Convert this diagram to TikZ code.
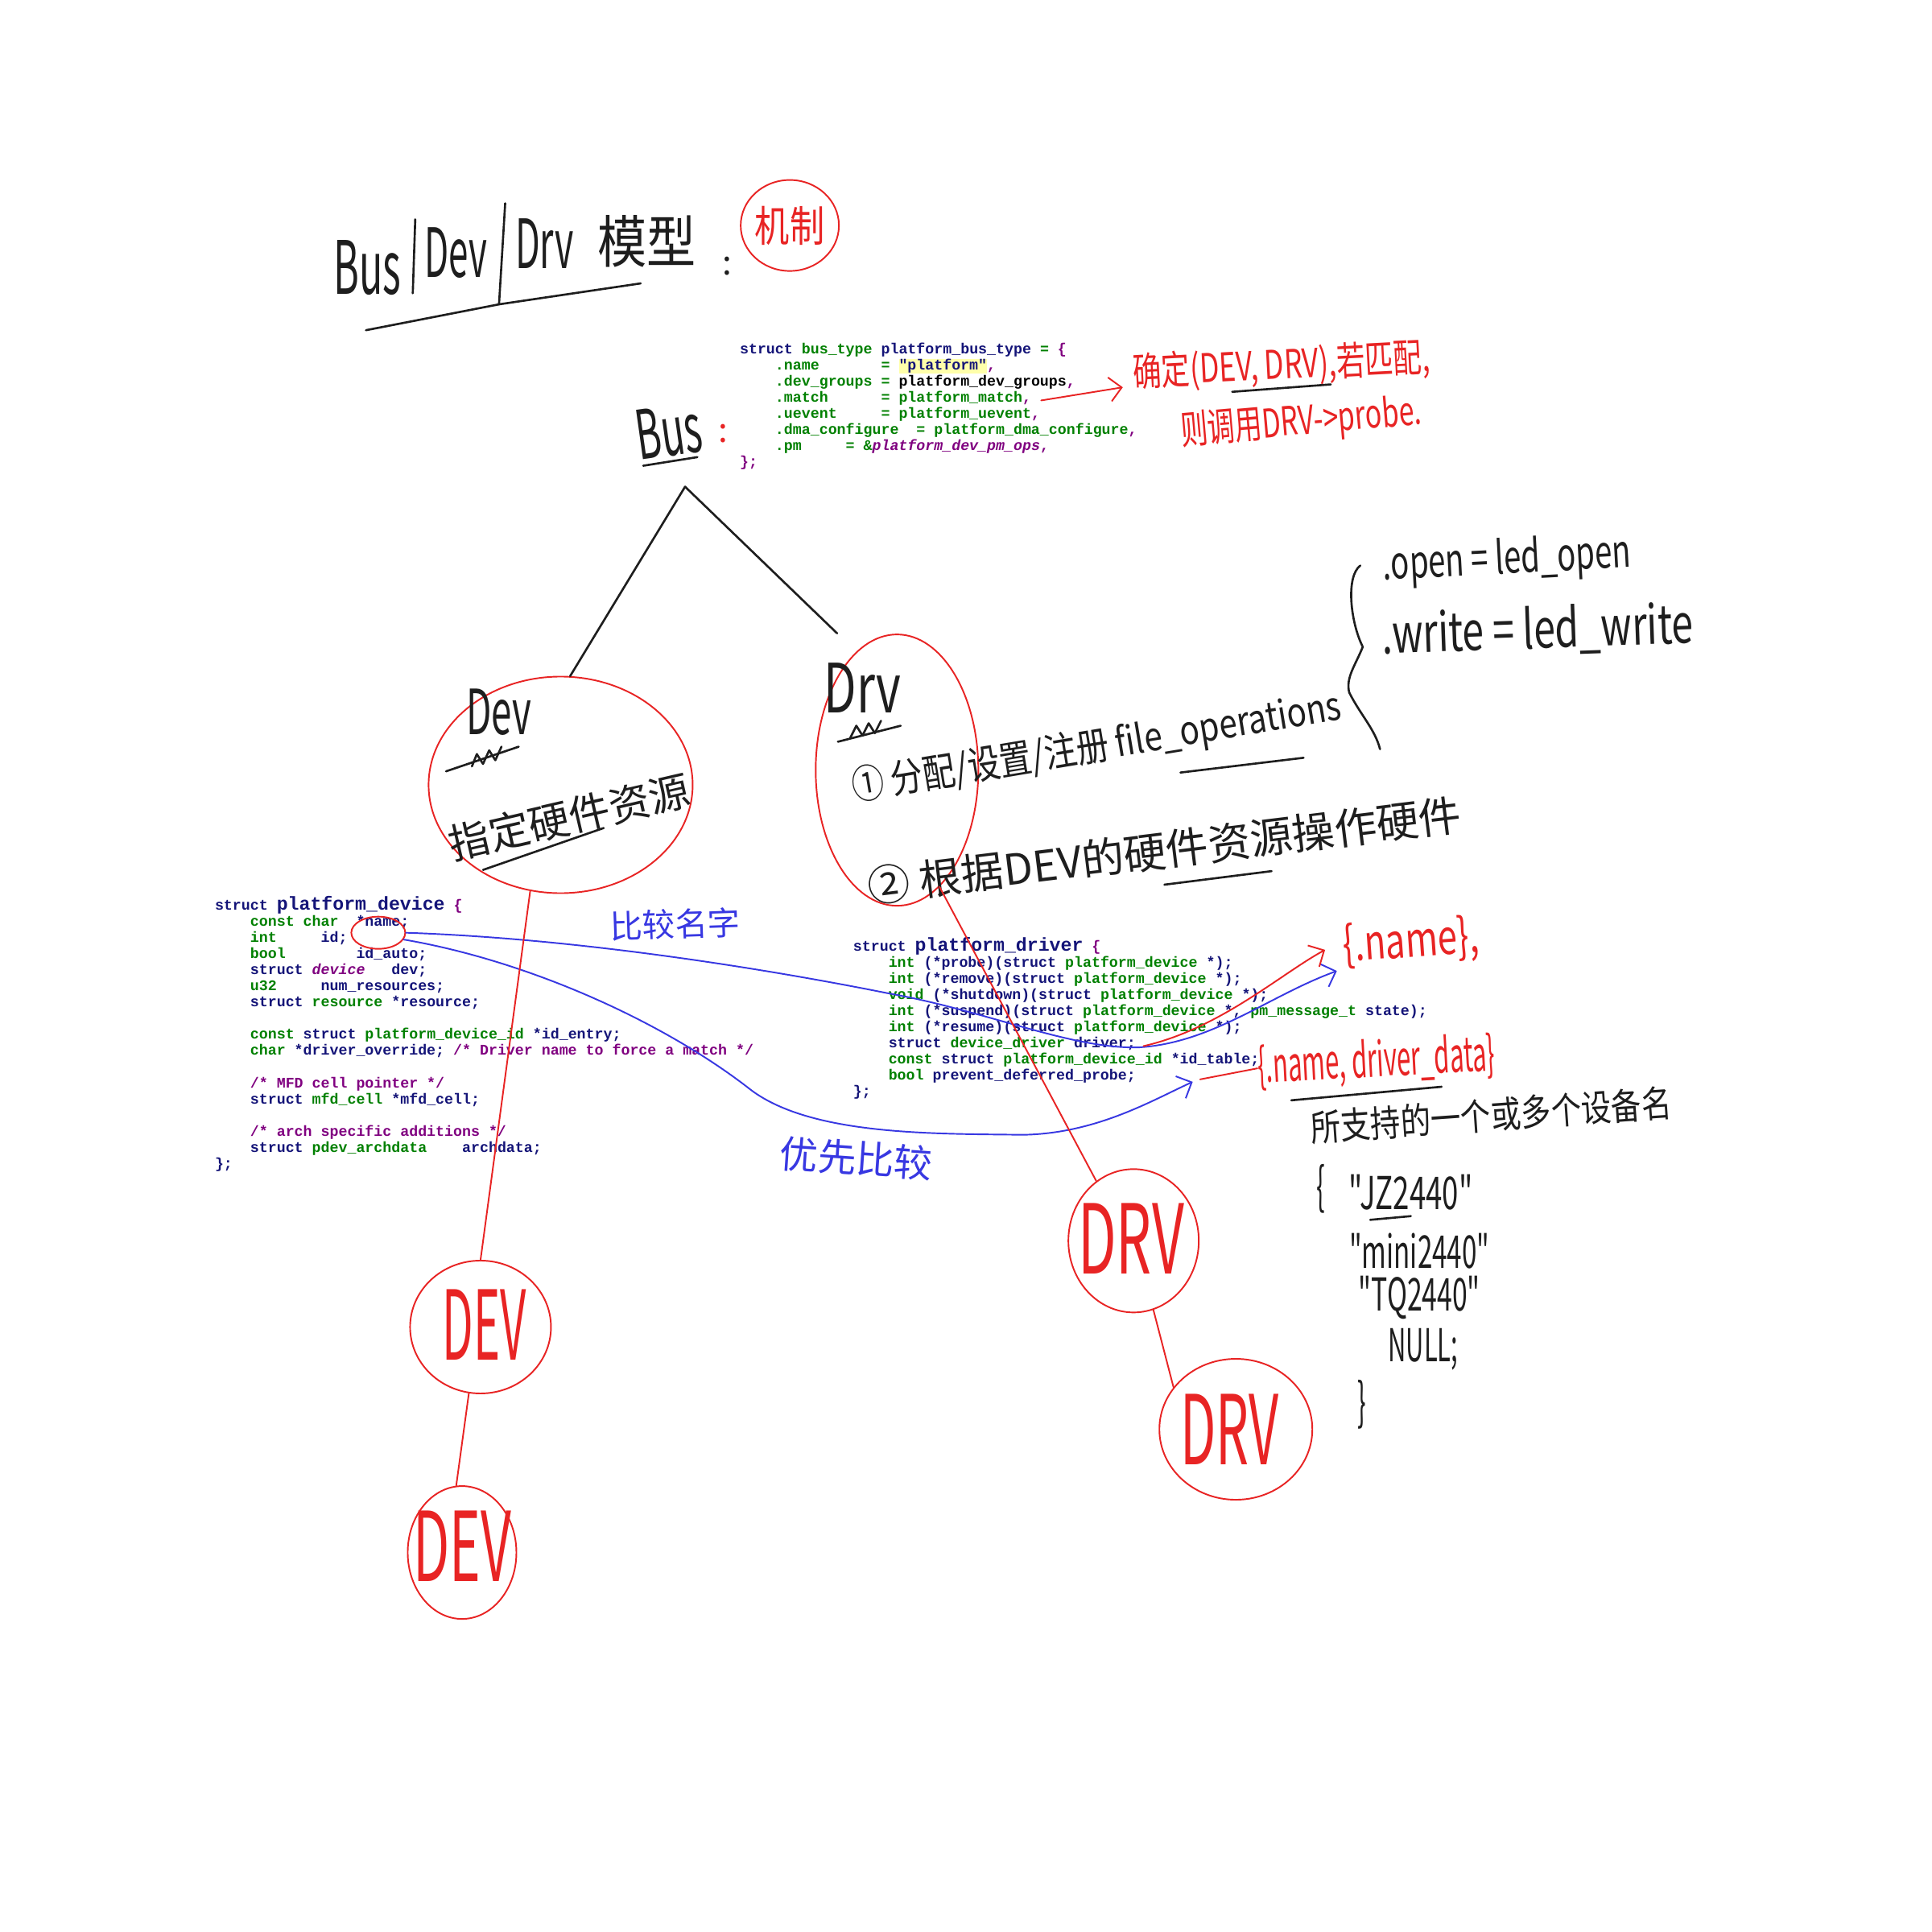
\documentclass[tikz,border=0pt]{standalone}
\usepackage{fontspec}
\usetikzlibrary{shapes.geometric,arrows.meta,positioning,calc}
\setmainfont{Liberation Sans}
\newfontfamily\hw{Noto Sans CJK SC}
\newfontfamily\codefont{Liberation Mono}

\definecolor{kwnavy}{RGB}{20,20,120}
\definecolor{tygreen}{RGB}{0,128,0}
\definecolor{cmpurple}{RGB}{128,0,128}
\definecolor{penred}{RGB}{232,36,36}
\definecolor{penblue}{RGB}{56,56,226}
\definecolor{penblack}{RGB}{30,30,30}
\definecolor{hlyellow}{RGB}{255,255,170}

\newcommand\nv[1]{\textcolor{kwnavy}{#1}}
\newcommand\gr[1]{\textcolor{tygreen}{#1}}
\newcommand\pu[1]{\textcolor{cmpurple}{#1}}
\newcommand\sk[1]{\hspace*{#1\dimexpr0.6em\relax}}
\newcommand\hsz[1]{\fontsize{#1}{#1}\selectfont}
\newcommand\codesize{\fontsize{5.2}{5.7}\selectfont}
\newcommand\bigname[1]{{\fontsize{6.6}{5.7}\selectfont\nv{#1}}}
\newcommand\hl[1]{{\setlength{\fboxsep}{0pt}\colorbox{hlyellow}{#1}}}
\lineskiplimit=-5pt

\begin{document}
\begin{tikzpicture}[
    x=0.015306cm, y=-0.015306cm,
    hand/.style={font=\hw, inner sep=0pt, text=penblack},
    code/.style={anchor=north west, inner sep=0pt, align=left,
                 font=\codefont\bfseries\codesize},
    ring/.style={draw=penred, ellipse, inner sep=0pt, line width=0.55pt},
    stroke/.style={draw=penblack, line width=0.75pt, line cap=round, line join=round},
    link/.style={draw=penred, line width=0.55pt, line cap=round},
    cmp/.style={draw=penblue, line width=0.55pt, line cap=round},
    barb/.style={-{Straight Barb[length=1.5mm,width=3mm]}}
]
\fill[white] (0,0) rectangle (1568,1568);
\useasboundingbox (0,0) rectangle (1568,1568);

% Title
\node[hand, font=\hw\hsz{26}, xscale=.53] (tbus)   at (298,217) {Bus};
\node[hand, font=\hw\hsz{24}, xscale=.52] (tdev)   at (370,205) {Dev};
\node[hand, font=\hw\hsz{24}, xscale=.53] (tdrv)   at (442,198) {Drv};
\node[hand, font=\hw\hsz{20}, xscale=.87] (tmodel) at (525,196) {模型};
\node[hand, font=\hw\hsz{12}]             (tcolon) at (590,216) {:};
\draw[stroke] (337,178) -- (335,238);
\draw[stroke] (410,165) -- (405,247);
\draw[stroke] (297,268) -- (405,247) -- (520,230);

\node[ring, minimum width=1.22cm, minimum height=1.13cm] (jizhi) at (641,183) {};
\node[hand, font=\hw\hsz{15}, xscale=.82, text=penred] (jizhitext) at (jizhi) {机制};

% Bus
\node[code] (buscode) at (600,278) {%
\nv{struct} \gr{bus\_type} \nv{platform\_bus\_type} \gr{=} \pu{\{}\\
\sk{4}\gr{.name\sk{7}=} \hl{\nv{"platform"}}\pu{,}\\
\sk{4}\gr{.dev\_groups =} platform\_dev\_groups\pu{,}\\
\sk{4}\gr{.match\sk{6}= platform\_match}\pu{,}\\
\sk{4}\gr{.uevent\sk{5}= platform\_uevent}\pu{,}\\
\sk{4}\gr{.dma\_configure\sk{2}= platform\_dma\_configure}\pu{,}\\
\sk{4}\gr{.pm\sk{5}= \&}\pu{\textit{platform\_dev\_pm\_ops}}\pu{,}\\
\pu{\};}};

\node[hand, font=\hw\hsz{14}, text=penred, rotate=3, xscale=.72] (matchnote) at (1040,297) {确定(DEV, DRV),若匹配,};
\node[hand, font=\hw\hsz{14}, text=penred, rotate=5, xscale=.69] (probenote) at (1056,343) {则调用DRV->probe.};
\coordinate (matchend) at (845,325);
\draw[link, barb] (matchend) -- ([shift={(-8,11)}]matchnote.west);
\draw[stroke] (1000,318) -- (1080,312);

\node[hand, font=\hw\hsz{24}, rotate=8, xscale=.56] (busname) at (543,350) {Bus};
\node[hand, font=\hw\hsz{12}, text=penred] (buscolon) at (587,352) {:};
\draw[stroke] (522,378) -- (566,371);
\coordinate (apex) at (556,395);

% Dev
\node[ring, minimum width=3.28cm, minimum height=2.69cm] (devring) at (455,637) {};
\node[hand, font=\hw\hsz{22}, xscale=.59] (devtext) at (405,578) {Dev};
\draw[stroke] (362,626) -- (421,606);
\draw[stroke] (383,622) -- (387,612) -- (392,620) -- (397,609) -- (402,617) -- (407,606);
\node[hand, font=\hw\hsz{14.5}, rotate=13] (devres) at (462,663) {指定硬件资源};
\draw[stroke] (392,706) -- (490,672);

% Drv
\node[ring, minimum width=2.02cm, minimum height=3.37cm] (drvring) at (728,625) {};
\node[hand, font=\hw\hsz{24}, xscale=.7] (drvtext) at (700,558) {Drv};
\draw[stroke] (680,602) -- (731,589);
\draw[stroke] (690,599) -- (695,589) -- (700,597) -- (705,587) -- (710,595) -- (715,585);
\node[hand, font=\hw\hsz{14}, rotate=9.5, xscale=.82] (drvstep1) at (890,607) {① 分配/设置/注册 file\_operations};
\draw[stroke] (958,627) -- (1058,615);
\node[hand, font=\hw\hsz{15}, rotate=7] (drvstep2) at (945,690) {② 根据DEV的硬件资源操作硬件};
\draw[stroke] (945,718) -- (1032,707);

\draw[stroke] (apex) -- (devring.85);
\draw[stroke] (apex) -- ([shift={(-9,-22)}]drvring.114);

% file_operations
\draw[stroke] (1104,459) .. controls (1092,468) and (1096,505) .. (1106,525)
              .. controls (1100,540) and (1092,550) .. (1095,562)
              .. controls (1104,580) and (1116,592) .. (1120,608);
\node[hand, font=\hw\hsz{16}, rotate=3, xscale=.68] (fopen)  at (1223,455) {.open = led\_open};
\node[hand, font=\hw\hsz{19}, rotate=2, xscale=.72] (fwrite) at (1248,512) {.write = led\_write};

% platform_device
\node[code] (devcode) at (174,727) {%
\nv{struct} \bigname{platform\_device} \pu{\{}\\
\sk{4}\gr{const char}\sk{2}\nv{*name;}\\
\sk{4}\gr{int}\sk{5}\nv{id;}\\
\sk{4}\gr{bool}\sk{8}\nv{id\_auto;}\\
\sk{4}\nv{struct} \pu{\textit{device}}\sk{3}\nv{dev;}\\
\sk{4}\gr{u32}\sk{5}\nv{num\_resources;}\\
\sk{4}\nv{struct} \gr{resource} \nv{*resource;}\\
\mbox{}\\
\sk{4}\gr{const} \nv{struct} \gr{platform\_device\_id} \nv{*id\_entry;}\\
\sk{4}\gr{char} \nv{*driver\_override;} \pu{/* Driver name to force a match */}\\
\mbox{}\\
\sk{4}\pu{/* MFD cell pointer */}\\
\sk{4}\nv{struct} \gr{mfd\_cell} \nv{*mfd\_cell;}\\
\mbox{}\\
\sk{4}\pu{/* arch specific additions */}\\
\sk{4}\nv{struct} \gr{pdev\_archdata}\sk{4}\nv{archdata;}\\
\nv{\};}};

% platform_driver
\node[code] (drvcode) at (692,760) {%
\nv{struct} \bigname{platform\_driver} \pu{\{}\\
\sk{4}\gr{int} \nv{(*probe)(struct} \gr{platform\_device} \nv{*);}\\
\sk{4}\gr{int} \nv{(*remove)(struct} \gr{platform\_device} \nv{*);}\\
\sk{4}\gr{void} \nv{(*shutdown)(struct} \gr{platform\_device} \nv{*);}\\
\sk{4}\gr{int} \nv{(*suspend)(struct} \gr{platform\_device} \nv{*,} \gr{pm\_message\_t} \nv{state);}\\
\sk{4}\gr{int} \nv{(*resume)(struct} \gr{platform\_device} \nv{*);}\\
\sk{4}\nv{struct} \gr{device\_driver} \nv{driver;}\\
\sk{4}\gr{const} \nv{struct} \gr{platform\_device\_id} \nv{*id\_table;}\\
\sk{4}\gr{bool} \nv{prevent\_deferred\_probe;}\\
\nv{\};}};

\node[ring, minimum width=0.67cm, minimum height=0.40cm] (namering) at (307,757) {};

% Matching
\node[hand, font=\hw\hsz{17}, text=penred, rotate=4, xscale=.73] (dotname) at (1145,765) {\{.name\},};
\node[hand, font=\hw\hsz{17}, text=penred, rotate=3, xscale=.52] (iddata) at (1117,862) {\{.name, driver\_data\}};
\draw[stroke] (1048,893) -- (1170,882);
\node[hand, font=\hw\hsz{11.5}, text=penblue, rotate=2]  (cmpname)  at (548,750) {比较名字};
\node[hand, font=\hw\hsz{13.5}, text=penblue, rotate=-4] (cmpfirst) at (695,940) {优先比较};

\coordinate (drvfield) at (928,849);
\coordinate (nametip)  at (1085,788);
\coordinate (idtip)    at (968,878);
\coordinate (idend)    at (974,876);

\draw[cmp, barb] (namering.east) .. controls (480,762) and (640,790) .. (720,806)
      .. controls (800,820) and (870,852) .. (925,850)
      .. controls (985,846) and (1030,808) .. (nametip);
\draw[cmp, barb] (namering.-15) .. controls (430,780) and (540,830) .. (610,885)
      .. controls (660,922) and (760,920) .. (830,921)
      .. controls (890,920) and (935,893) .. (idtip);
\draw[link, barb] (drvfield) .. controls (990,835) and (1040,790) .. ([shift={(-14,2)}]dotname.west);
\draw[link] (idend) -- (iddata.west);

% Lists
\node[ring, minimum width=1.75cm, minimum height=1.65cm] (devone) at (390,1077) {};
\node[hand, font=\hw\hsz{34}, text=penred, xscale=.47] (devonetext) at (393,1075) {DEV};
\node[ring, minimum width=1.35cm, minimum height=1.65cm] (devtwo) at (375,1260) {};
\node[hand, font=\hw\hsz{34}, text=penred, xscale=.55] (devtwotext) at (375,1255) {DEV};
\draw[link] (devring.-106) -- (devone.north);
\draw[link] (devone.-100) -- (devtwo.95);

\node[ring, minimum width=1.62cm, minimum height=1.78cm] (drvone) at (920,1007) {};
\node[hand, font=\hw\hsz{34}, text=penred, xscale=.58] (drvonetext) at (918,1005) {DRV};
\node[ring, minimum width=1.90cm, minimum height=1.75cm] (drvtwo) at (1003,1160) {};
\node[hand, font=\hw\hsz{34}, text=penred, xscale=.54] (drvtwotext) at (998,1160) {DRV};
\draw[link] (drvring.-70) -- (drvone.122);
\draw[link] (drvone.-74) -- (drvtwo.146);

% id_table
\node[hand, font=\hw\hsz{13}, rotate=4, xscale=.82] (idnote) at (1210,905) {所支持的一个或多个设备名};
\node[hand, font=\hw\hsz{18}, xscale=.5]  (idopen) at (1072,965)  {\{};
\node[hand, font=\hw\hsz{16}, xscale=.65] (idjz)   at (1145,968)  {"JZ2440"};
\draw[stroke] (1112,990) -- (1145,987);
\node[hand, font=\hw\hsz{16}, xscale=.59] (idmini) at (1152,1015) {"mini2440"};
\node[hand, font=\hw\hsz{16}, xscale=.6]  (idtq)   at (1152,1053) {"TQ2440"};
\node[hand, font=\hw\hsz{16}, xscale=.55] (idnull) at (1155,1095) {NULL;};
\node[hand, font=\hw\hsz{18}, xscale=.5]  (idclose) at (1105,1140) {\}};

\end{tikzpicture}
\end{document}
